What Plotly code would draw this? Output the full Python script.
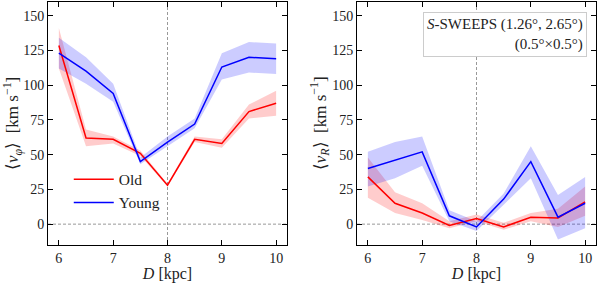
import plotly.graph_objects as go

D = [6.0, 6.5, 7.0, 7.5, 8.0, 8.5, 9.0, 9.5, 10.0]

# <v_phi>
old_vphi = [128.5, 62, 61, 51, 28, 61, 58, 81, 87]
old_vphi_lo = [112, 56, 58, 49, 27, 59, 55, 76, 78]
old_vphi_hi = [141, 68, 63, 53, 29, 63, 61, 86, 96]
young_vphi = [123, 110, 94, 45, 59, 72, 113, 120, 119]
young_vphi_lo = [112, 101, 88, 43, 56, 69, 104, 109, 108]
young_vphi_hi = [134, 120, 101, 48, 63, 76, 123, 131, 130]

# <v_R>
old_vr = [34, 15, 8, -1, 4, -2, 5, 4.5, 16]
old_vr_lo = [19, 8, 3, -3, 2, -4, 2, -2, 6]
old_vr_hi = [48, 23, 15, 2, 7, 1, 8, 11, 27]
young_vr = [40, 46, 52, 6, -2, 18, 45, 5, 15]
young_vr_lo = [27, 33, 42, 2, -5, 14, 33, -11, -3]
young_vr_hi = [52, 59, 63, 10, 2, 22, 56, 21, 34]

x_ticks = [6, 7, 8, 9, 10]
y_ticks = [0, 25, 50, 75, 100, 125, 150]

FONT = "Liberation Serif"
RED = "#ff0000"
BLUE = "#0000ff"
RED_F = "rgba(255,0,0,0.2)"
BLUE_F = "rgba(0,0,255,0.2)"

fig = go.Figure()


def band(xa, ya, lo, hi, fillc):
    fig.add_trace(go.Scatter(x=D + D[::-1], y=hi + lo[::-1], fill="toself",
                             fillcolor=fillc, line=dict(width=0), mode="lines",
                             hoverinfo="skip", showlegend=False, xaxis=xa, yaxis=ya))


def line(xa, ya, y, color, name, show):
    fig.add_trace(go.Scatter(x=D, y=y, mode="lines", line=dict(color=color, width=1.5),
                             name=name, showlegend=show, xaxis=xa, yaxis=ya))


band("x", "y", old_vphi_lo, old_vphi_hi, RED_F)
band("x", "y", young_vphi_lo, young_vphi_hi, BLUE_F)
line("x", "y", old_vphi, RED, "Old", True)
line("x", "y", young_vphi, BLUE, "Young", True)

band("x2", "y2", old_vr_lo, old_vr_hi, RED_F)
band("x2", "y2", young_vr_lo, young_vr_hi, BLUE_F)
line("x2", "y2", old_vr, RED, "Old", False)
line("x2", "y2", young_vr, BLUE, "Young", False)

ytop = 1 - 1.7 / 283
ybot = 1 - 245 / 283

xax = dict(range=[5.8, 10.2], tickvals=x_ticks, ticks="inside", ticklen=5, tickwidth=1,
           tickcolor="black", mirror="ticks", showline=True, linecolor="black", linewidth=1,
           showgrid=False, zeroline=False, tickfont=dict(size=14, color="#222"),
           automargin=False,
           title=dict(text="<i>D</i> [kpc]", font=dict(size=16, color="#222"), standoff=0))
yax = dict(range=[-15, 160], tickvals=y_ticks, ticks="inside", ticklen=5, tickwidth=1,
           tickcolor="black", mirror="ticks", showline=True, linecolor="black", linewidth=1,
           showgrid=False, zeroline=False, tickfont=dict(size=14, color="#222"),
           automargin=False)

fig.update_layout(
    width=598, height=283,
    margin=dict(l=0, r=0, t=0, b=0, autoexpand=False),
    paper_bgcolor="white", plot_bgcolor="white",
    font=dict(family=FONT, color="#222"),
    showlegend=True,
    legend=dict(x=0.115, y=0.425, xanchor="left", yanchor="top", xref="paper", yref="paper",
                bgcolor="rgba(0,0,0,0)", font=dict(size=15.5), itemwidth=40,
                tracegroupgap=0),
    xaxis=dict(xax, domain=[48 / 598, 287 / 598], anchor="y"),
    yaxis=dict(yax, domain=[ybot, ytop], anchor="x",
               title=dict(text="⟨<i>v</i><sub><i>φ</i></sub>⟩  [km s<sup>−1</sup>]",
                          font=dict(size=17), standoff=0)),
    xaxis2=dict(xax, domain=[357 / 598, 596 / 598], anchor="y2"),
    yaxis2=dict(yax, domain=[ybot, ytop], anchor="x2",
                title=dict(text="⟨<i>v</i><sub><i>R</i></sub>⟩  [km s<sup>−1</sup>]",
                           font=dict(size=17), standoff=0)),
)

for xa, ya in [("x", "y"), ("x2", "y2")]:
    fig.add_shape(type="line", x0=8, x1=8, y0=-15, y1=160, xref=xa, yref=ya,
                  line=dict(color="#999", width=1, dash="3px,2px"), layer="below")
    fig.add_shape(type="line", x0=5.8, x1=10.2, y0=0, y1=0, xref=xa, yref=ya,
                  line=dict(color="#999", width=1, dash="3px,2px"), layer="below")

fig.add_annotation(x=10.03, y=152.5, xref="x2", yref="y2", xanchor="right", yanchor="top",
                   text="<i>S</i>-SWEEPS (1.26°, 2.65°)<br>(0.5°×0.5°)", align="right",
                   showarrow=False, font=dict(size=15, color="#222"),
                   bordercolor="#cccccc", borderwidth=1, borderpad=3, bgcolor="white")

fig.write_html("out.html", config={"displayModeBar": False},
               post_script="document.body.style.margin='0';")
